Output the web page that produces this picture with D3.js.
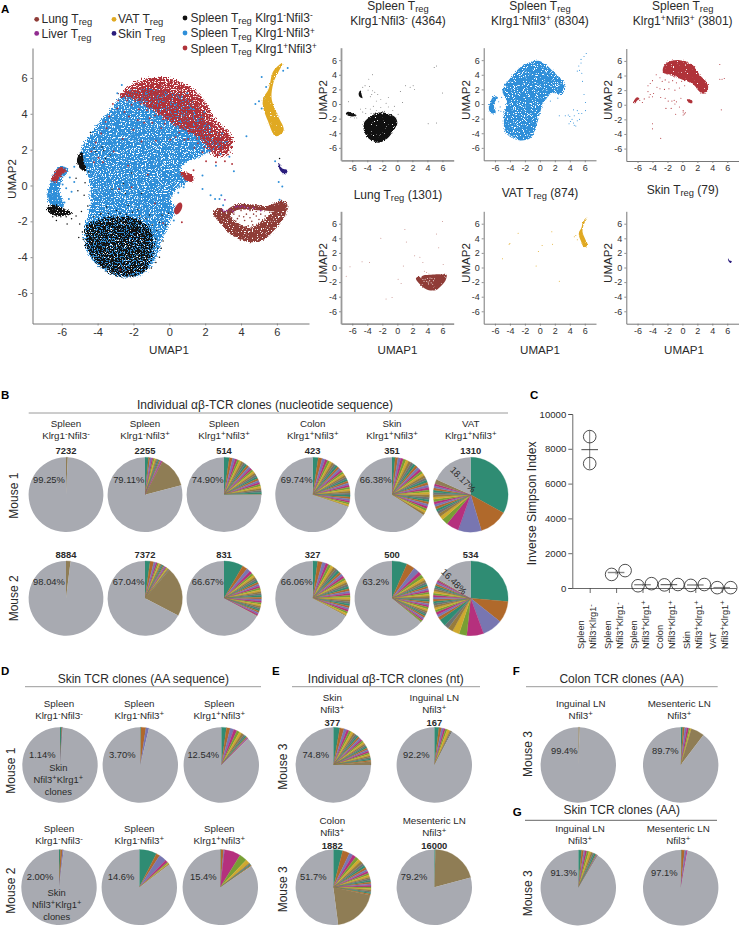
<!DOCTYPE html>
<html><head><meta charset="utf-8">
<style>html,body{margin:0;background:#fff}svg{display:block}text{font-family:"Liberation Sans",Arial,sans-serif;fill:#2a2a2a}</style>
<script src="https://cdn.jsdelivr.net/npm/d3@7"></script></head><body><svg id="c" width="739" height="926"></svg>
<script>
// ---------- UMAP data (UMAP1, UMAP2) ----------
const blueHull=[[-3.1,4.4],[-3.9,3.5],[-4.4,2.85],[-4.85,2.1],[-4.95,1.4],[-4.5,.5],[-4.4,-.6],[-4.5,-1.55],[-4.75,-2.65],[-4.45,-3.95],[-3.5,-4.8],[-2.55,-5.15],[-1.45,-4.9],[-.7,-3.95],[-.35,-2.85],[.1,-1.9],[.4,-1.25],[.05,-.8],[.4,-.25],[.95,.2],[.6,.85],[1.7,1.6],[2.4,1.9],[3.4,2.2],[2.5,3],[1,4.8],[-1,5.4],[-2.6,5.0]];
const blueMiniHull=[[-.2,5.9],[1.8,4.4],[3.3,2.4],[2.9,1.2],[1.8,1.5],[.9,.8],[.5,.2],[0,-1.3],[-.45,-2.9],[-1.3,-4.7],[-3.1,-4.9],[-4.5,-4],[-4.8,-1.7],[-4.5,.5],[-5,1.7],[-3.8,3.7],[-2.2,5.3]];
const redHull=[[-2.75,4.95],[-2.4,5.4],[-1.45,5.88],[-.15,5.98],[.95,5.6],[1.9,4.78],[2.6,3.6],[3.45,2.75],[3.55,2.35],[3.2,1.65],[2.6,1.6],[2.3,1.9],[1.7,2.6],[.8,3.1],[-.2,3.7],[-1.1,4.3],[-2,4.8]];
const redMiniHull=[[-2.6,5],[-2.1,5.7],[-.36,6.1],[1.4,5.4],[2.3,4.1],[3.4,2.7],[3.4,2],[2.8,1.5],[2.1,2],[1.4,2.9],[.1,3.4],[-1.7,4.1],[-2.6,4.5]];
const blackHull=[[-4.6,-2.3],[-3.9,-1.95],[-2.6,-1.75],[-1.5,-2.05],[-.9,-2.9],[-.95,-3.9],[-1.45,-4.85],[-2.55,-5.15],[-3.5,-4.8],[-4.4,-3.95],[-4.7,-2.9]];
const blackWideHull=[[-4.4,-2.5],[-3.6,-1.7],[-2.5,-1.2],[-1,-1.4],[-.2,-1.9],[0,-2.6],[-.5,-3.6],[-1.3,-4.7],[-2.5,-5.3],[-3.6,-4.9],[-4.4,-3.8]];
const blackLeft=[[-6.85,-1.35],[-6.65,-1.1],[-5.9,-1.3],[-5.4,-1.55],[-5.9,-1.7],[-6.65,-1.55]];
const blackMid=[[-5.15,1.45],[-4.9,1.85],[-4.75,1.25],[-4.65,.8],[-4.98,.95]];
const blueLeft=[[-6.55,.4],[-6.7,-1],[-6.4,-1.3],[-5.9,-1.15],[-6.1,-.5],[-6.0,.3],[-5.6,.9],[-6.1,1.05]];
const redLeft=[[-6.55,.25],[-6.4,.7],[-6,1.03],[-5.75,.85],[-6.1,.5],[-6.3,.2]];
const redSmall=[[.6,.72],[1.34,.5],[1.3,.22],[.87,.32]];
const redSlash=[[.3,-1.55],[.66,-.97],[.7,-1.02],[.36,-1.6]];
const lungHull=[[2.5,-1.45],[3.0,-2.3],[3.6,-2.85],[4.4,-3.15],[5.1,-3.1],[5.85,-2.5],[6.5,-1.55],[6.55,-1.0],[6.25,-.85],[5.85,-1.4],[5.3,-1.9],[4.4,-2.35],[3.7,-2.0],[3.2,-1.55],[2.85,-1.25]];
const lungThin=[[3.2,-1.5],[3.8,-1.05],[4.5,-1.05],[5.4,-1.15],[6.1,-1.0],[6.1,-1.35],[5.3,-1.4],[4.4,-1.35],[3.7,-1.4],[3.3,-1.75]];
const vatHull=[[6.3,6.85],[5.85,6.45],[5.5,5.3],[5.25,4.9],[5.5,3.6],[6,2.75],[6.35,3.0],[6.05,3.9],[5.7,4.9],[5.8,5.7]];
const skinHull=[[6.1,1.25],[6.3,.95],[6.6,.85],[6.45,.6],[6.25,.75],[6.1,1.05]];
const liverPts=[[3.2,-1.4],[3.4,-1.35],[3.55,-1.45],[3.7,-1.2],[3.8,-1.15],[3.95,-1.2],[4.05,-1.15],[4.2,-1.2],[4.4,-1.25],[3.05,-1.45],[2.95,-1.35],[4.7,-1.25],[5.1,-1.4],[3.1,-.8]];
const redSpecks=[[-3.35,3.85],[-2.9,4.3],[-2.5,4.1],[-2.1,4.5],[-1.7,4.25],[-1.25,4.2],[-.8,3.9],[-.35,3.7],[.15,3.5],[.6,3.2],[1.1,3.0],[1.55,2.6],[2.0,2.4],[-3.8,2.9],[-4.1,2.4],[-4.35,1.9],[-4.2,1.3],[-3.95,1.55],[-3.7,1.3],[-3.1,1.9],[-2.6,2.6],[-2,3.1],[-1.4,3.5],[-.95,3.5],[-.45,3.2],[.35,2.7],[.85,2.55],[1.4,2.1],[1.85,1.85],[.05,2.55],[-.75,2.5],[-1.55,2.45],[-2.3,1.1],[-1.2,.6],[-2.8,-.2],[-.8,-1.0],[-2.1,-.1],[-3.5,3.2],[-3.55,3.55],[2.05,1.35],[2.6,1.3],[3.1,1.35],[1.35,.85],[3.5,1.2],[.1,3.95],[.6,3.75],[-.65,4.3],[-3.15,4.55],[-2.85,4.75],[-.35,-2.1],[-2.75,-4.7],[.7,-2.05],
[-1.6,4.55],[-1.1,4.35],[-.55,4.0],[-.1,3.8],[.35,3.35],[.85,3.3],[1.3,3.25],[1.7,2.85],[2.2,2.7],[2.35,2.05],[1.95,2.15],[-1.9,4.7],[-2.35,4.75],[-.25,3.45],[.55,2.95],[1.05,2.6],[1.6,2.35],[-1.1,3.75],[-1.75,3.65],[-2.25,3.85]];
const blueSpecks=[[-.6,4.7],[-.2,5.05],[.3,4.5],[.7,4.95],[1.2,4.3],[.8,3.9],[1.6,3.6],[1.95,4.1],[2.25,3.2],[2.7,2.3],[2.95,2.9],[-1.3,5.1],[-2.2,5.3],[-2.65,5.6],[-2.9,5.15],[3.1,2.4],[2.85,1.75],[1.0,5.15],[-1.5,4.85],
[5.15,6.05],[5.85,6.2],[5.4,5.5],[5.0,4.7],[4.8,4.55],[5.15,4.3],[5.3,4.85],[6.35,6.4],[6.6,6.55],[4.3,2.75],[3.35,1.6],[3.6,.8],[5.9,1.35],[6.1,.2],[6.3,-.05],[2.9,-.55],[2.55,-.75],[2.8,-.75],[2.3,-.55],[1.85,-.2],[1.85,.55],[2.6,1.1],[.5,-.4],[.8,-.1],[.25,-1.95],[6.35,-.95],[6.15,-.8],[3.0,-1.1],[-5.55,.45],[-5.3,.2],[-5.45,-.35],[-5.6,-.75],[-5.3,1.05],[-5.75,-.15],[-5.95,.05],[-5.85,-.95]];
const blackSpecks=[[-5.1,-.3],[-4.75,-.55],[-5.2,.4],[-4.55,-1.15],[-4.9,-1.45],[-5.0,-2.15],[-4.85,-2.6],[-5.05,-2.9],[-4.8,-3.0],[-4.5,.75],[-4.1,1.9],[-3.65,1.95],[-3.3,1.7],[-3.55,1.5],[-3.75,2.15],[-3.2,-.2],[-2.45,-.45],[-2.55,.1],[-2.3,-1.1],[-1.75,-1.35],[-1.1,-1.65],[-.55,-2.05],[-.2,-2.2],[-.4,-1.65],[-.05,-1.55],[-2.95,-1.4],[-3.5,-1.2],[-3.8,-1.55],[-5.45,-1.85],[-5.75,-1.75],[-6.3,-1.95],[-6.05,-1.75],[-5.7,-2.15],[-5.2,-1.7],[-6.5,-1.75],[-4.7,.15],[-4.2,2.1],[-.55,-4.0],[-.75,-4.3],[-1.0,-4.6],[-.45,-3.5],[-.35,-3.1],[5.4,4.65],[6.15,1.5],[-4.4,2.95],[-2.1,.7],[-1.55,-.45],
[-4.2,-1.75],[-3.85,-1.6],[-3.4,-1.55],[-3.1,-1.7],[-2.75,-1.55],[-2.4,-1.6],[-2.05,-1.5],[-1.65,-1.7],[-1.3,-1.85],[-.95,-2.2],[-.7,-2.5],[-.75,-3.0],[-.65,-3.5],[-4.35,-2.05],[-3.6,-1.8],[-2.9,-1.85],[-2.2,-1.85],[-1.85,-1.85]];
const miniBlackPts=[[-5,1.6],[-4.6,2.3],[-4.3,2.5],[-3.7,2.4],[-3.9,1.9],[-3.3,1.8],[-3.0,1.6],[-3.4,1.3],[-3.6,1.0],[-3.3,4.0],[-3.8,3.4],[-2.6,1.3],[-2.8,.4],[-2.2,.6],[-1.5,.1],[-1.2,.9],[-.4,-.3],[-.6,-.9],[.1,-1.4],[-4.2,-.6],[-3.6,-.7],[-4.6,-1.1],[-4.9,-.7],[-4.2,-1.3],[-3.2,-.3],[-2.2,-.5],[-1.2,-.4],[.7,.2],[.4,1.7],[1.1,2.5],[1.7,2.3],[2.1,2.5],[2.3,2.0],[4.1,-2.7],[5.2,-2.6],[6,1.5],[4.9,5],[5.2,5.2],[-5.7,-1.9],[-6.2,-1.8],[-5.4,-1.9],[-6.5,.3],[-3.5,-1.3],[-2.8,-.9],[-1.7,-1.0]];
const miniBluePts=[[-5.1,.9],[-5.5,.3],[-5.3,-.4],[-5.5,-.9],[-5.2,-1.0],[5.5,6.1],[5.9,6.5],[6.2,6.9],[5.2,5.2],[5.5,5.6],[5.0,4.5],[5.3,4.6],[5.6,4.2],[5.7,3.1],[5.9,1.3],[6.1,.2],[6.1,-.9],[5.6,-1.3],[5.2,-1.3],[4.6,-1.6],[4.0,-1.7],[3.8,-1.5],[3.4,-1.6],[2.6,-1.6],[4.1,-2.4],[4.5,-2.6],[4.8,-3.0],[5.0,-2.3],[5.3,-2.1],[4.3,-2.1],[4.6,-2.9],[3.9,-2.7],[4.5,-.8],[5,-.9],[2.4,.8],[1.4,.4]];
const miniRedPts=[[-4.6,2.6],[-4.3,2.9],[-4.0,3.3],[-3.5,4.1],[-3.0,3.7],[-2.7,3.2],[-2.3,3.4],[-1.8,3.1],[-1.3,3.3],[-.8,3.0],[-3.4,2.4],[-3.0,2.2],[-2.4,2.1],[-1.8,2.2],[-1,2.0],[-.4,2.3],[.3,2.6],[-4.6,1.8],[-4.3,1.4],[-4.0,1.1],[-4.45,1.05],[-3.85,1.55],[-2.9,1.0],[-2.3,.9],[-1.9,.5],[-1.4,.5],[-1.1,.6],[-.8,.4],[-.2,.9],[-.4,-.3],[-2.2,-.5],[-1.5,-.5],[-1,.1],[.1,-.8],[-.9,-1.3],[.1,-1.4],[.4,-1.1],[.1,-1.0],[.25,-1.25],[-4,-2.6],[-4,-3.3],[-2.9,-4.6],[5,5.5],[5,3.5],[5.3,3.5],[5.6,3.6],[5.2,-.7],[.9,.7],[.7,.6],[1.2,.5],[1.0,.4],[.8,.4],[-5.7,.6],[-5.35,.3],[-5.1,.8],[1.3,3.5],[.4,3.6],[-.5,3.7],[-1.2,3.9],[1.9,3.1],[2.3,2.6],[-.1,3.2],[.8,3.2]];
const miniLungPts=[[6,6.3],[1,5.2],[5.2,4.6],[-2.2,4],[1.2,3.5],[5.5,2.7],[2.3,1.6],[3,1.4],[3.4,.7],[-4.7,.8],[-3.7,.7],[-6.3,.1],[6.1,.4],[.8,.2],[-6.8,-1.2],[.1,-1.6],[.5,-2.2],[-1.5,-4.3],[-.7,-4.1],[3.6,-.5],[3.9,-.7],[4.2,-.9]];
const lungInner=[[3.6,-1.6],[3.9,-1.7],[4.3,-1.6],[4.7,-1.6],[5.1,-1.6],[3.7,-2],[4.2,-1.95],[4.6,-2],[5,-1.9],[4.0,-1.4],[4.5,-1.4],[3.45,-1.85],[4.85,-1.45],[5.35,-1.7],[3.3,-1.6],[4.4,-2.25],[3.95,-2.3],[5.6,-1.5],[3.05,-1.8],[5.0,-2.2],[4.15,-1.75],[4.5,-1.8],[4.85,-1.7],[3.8,-1.85],[4.65,-2.2],[3.6,-2.15],[5.25,-2.05]];
const miniLungWhite=[[3.7,-1.6],[4.0,-1.5],[4.3,-1.8],[4.6,-1.5],[4.1,-2],[4.5,-2.1],[4.8,-1.8],[3.9,-1.9],[4.35,-1.45],[3.55,-1.9],[4.95,-1.55],[4.15,-2.25],[4.7,-2.3],[3.4,-1.65]];
const miniVatPts=[[-5,1.2],[-4.1,3.2],[-4,3.3],[-2.9,4.7],[1.6,4.9],[1.7,3.2],[.3,3],[-.2,2.2],[-.5,.2],[2.6,-1.9],[4.6,4.2],[4.8,4.4],[5,3.8]];

// ---------- Panel A labels ----------
const umapTicks=[-6,-4,-2,0,2,4,6];
const legendLabels=["Lung T_{reg}","Liver T_{reg}","VAT T_{reg}","Skin T_{reg}","Spleen T_{reg} Klrg1^{-}Nfil3^{-}","Spleen T_{reg} Klrg1^{-}Nfil3^{+}","Spleen T_{reg} Klrg1^{+}Nfil3^{+}"];

// ---------- Pie data: clone shares (%), pooled thin clones (%), remainder (%) ----------
const m1a={clones:[],blend:.75,rest:99.25};
const m1b={clones:[1.5,.7,.7,.6,.6,.6,.5,.5,.5,.5,.5,.5],blend:13.19,rest:79.11};
const m1c={clones:[2.3,1.4,1.1,1,.95,.95,.95,.95,.95,.95,.95,.9,.9,.9,.9,.9,.9,.9,.9,.85,.85,.85,.85,.85,.85],blend:.2,rest:74.9};
const m1d={clones:[2.4,1.7,1.3,1.1,1.1,1,1,1,1,.95,.95,.95,.95,.9,.9,.9,.9,.9,.9,.9,.9,.85,.85,.85,.85,.85,.8,.8,.8,.75],blend:.2,rest:69.74};
const m1e={clones:[1.4,1.2,1.2,1.2,1.2,1.2,1.2,1.15,1.15,1.15,1.15,1.15,1.1,1.1,1.1,1.1,1.1,1.1,1.1,1.1,1.05,1.05,1.05,1.05,1.05,1,1,1,1,1,.95],blend:.1,rest:66.38};
const m1f={clones:[32.8,12.2,10,5.4,2.6,1.6,1.3,1.2,1.1,1.1,1.05,1.05,1,1,1,1,.95,.95,.9,.9],blend:1.9,rest:18.17};
const m2a={clones:[],blend:1.96,rest:98.04};
const m2b={clones:[2.2,1.6,.9,.7,.6,.6,.5,.5,.5,.5,.5,.5,.4,.4,.4,.4],blend:21.26,rest:67.04};
const m2c={clones:[8.3,2.2,1.6,1.2,1,.9,.9,.85,.85,.85,.85,.85,.8,.8,.8,.8,.8,.8,.8,.75,.75,.75,.75,.7,.7,.7,.7,.65],blend:.2,rest:66.67};
const m2d={clones:[2.1,2,1.5,1.2,1.2,1.2,1.1,1.1,1.1,1.05,1.05,1,1,1,1,1,.95,.95,.95,.9,.9,.9,.9,.9,.85,.85,.85,.85,.8,.8],blend:.3,rest:66.06};
const m2e={clones:[6.5,3.5,2.5,1.5,1.5,1.2,1,1,.85,.85,.85,.85,.85,.8,.8,.8,.8,.8,.8,.8,.8,.8,.8,.8,.75,.75,.75,.7,.7],blend:.2,rest:63.2};
const m2f={clones:[26.1,9.2,8.6,7.2,3.3,3,2.2,1.9,3,1.4,1.1,1.1,1,1,.95,.95,.9,.9,.9,.85,.85,.85,.8,.8,.8,.8,.75,.75],blend:.4,rest:16.48};
const d1a={clones:[.7,.25,.19],blend:0,rest:98.86};
const d1b={clones:[.3,2.1,1.3],blend:0,rest:96.3};
const d1c={clones:[2.2,1.6,1.6,1.4,1.2,1.1,1,.8,.6,.5,.3,.24],blend:0,rest:87.46};
const d2a={clones:[.6,.9,.5],blend:0,rest:98};
const d2b={clones:[7.5,1.6,3.2,1.1,.5,.4,.3],blend:0,rest:85.4};
const d2c={clones:[.3,1.1,.4,7,3.3,1.8,.4,.4,.4,.3],blend:0,rest:84.6};
const e1a={clones:[2.8,1.8,1.2,1.1,1,1,.9,.9,.8,.8,.8,.8,.75,.75,.75,.7,.7,.7,.7,.7,.7,.65,.65,.65,.6,.6],blend:1.5,rest:74.8};
const e1b={clones:[2,1.1,.9,.8,.8,1.2,.5,.5],blend:0,rest:92.2};
const e2a={clones:[4,3,1.6,1.5,1.4,1.3,1.2,1.1,1,.9,.9,.9,.8,.8,.75,.75,.7,.7,.7,.65,.65,.6,.6,.6,.55,.55],blend:19.4,rest:51.7};
const e2b={clones:[.5],blend:20.3,rest:79.2};
const f1a={clones:[],blend:.6,rest:99.4};
const f1b={clones:[.9,.8,.9,.9,.6,.5],blend:5.7,rest:89.7};
const g1a={clones:[1.4,.9,.6,.8,.9,.9,.8,.7,.7,.4,.4],blend:.1,rest:91.3};
const g1b={clones:[.4,1.3,.8,.4],blend:0,rest:97.1};
const sliceColors=["#2f8c73","#b0692b","#7876b1","#b5307d","#789f34","#cfa92e","#977b3d","#6f7271"];
const blendColor="#8f7d55",restColor="#a8aab1";

// ---------- Panel C data ----------
const cGroups=["Spleen|Nfil3^{-}Klrg1^{-}","Spleen|Nfil3^{+}Klrg1^{-}","Spleen|Nfil3^{+}Klrg1^{+}","Colon|Nfil3^{+}Klrg1^{+}","Skin|Nfil3^{+}Klrg1^{+}","VAT|Nfil3^{+}Klrg1^{+}"];
const cMouse1=[8700,780,130,180,150,20];
const cMouse2=[7150,1000,250,200,200,20];
const cMean=[7950,890,190,190,175,20];
const cErr=[1100,110,60,10,25,5];
const cTicks=[0,2000,4000,6000,8000,10000];

// ---------- helpers ----------
const svg=d3.select("#c");
const defs=svg.append("defs");
function grain(id,freq,scale,slope,cut,seed){
  const f=defs.append("filter").attr("id",id).attr("x","-15%").attr("y","-15%").attr("width","130%").attr("height","130%").attr("color-interpolation-filters","sRGB");
  f.append("feTurbulence").attr("type","fractalNoise").attr("baseFrequency",freq).attr("numOctaves",2).attr("seed",seed).attr("result","n");
  f.append("feDisplacementMap").attr("in","SourceGraphic").attr("in2","n").attr("scale",scale).attr("xChannelSelector","R").attr("yChannelSelector","G").attr("result","d");
  f.append("feColorMatrix").attr("in","n").attr("type","matrix").attr("values",`0 0 0 0 0 0 0 0 0 0 0 0 0 0 0 0 ${slope} 0 0 ${cut}`).attr("result","m");
  f.append("feComposite").attr("in","d").attr("in2","m").attr("operator","in");
}
grain("gB",.75,9,14,-4.9,4);
grain("gR",.75,11,14,-5.0,11);
grain("gK",.75,10,14,-5.7,23);
grain("gE",.8,5,14,-4.2,7);
grain("gS",.9,3.5,14,-3.2,9);
grain("gV",.9,2.5,14,-3,13);
grain("gSB",.9,4,14,-4.6,17);
function rich(x,y,str,o={}){
  const fs=o.size||9.5;
  const t=svg.append("text").attr("font-size",fs).attr("text-anchor",o.anchor||"middle");
  if(o.rotate!=null) t.attr("transform",`translate(${x},${y}) rotate(${o.rotate})`);
  else t.attr("x",x).attr("y",y);
  if(o.weight) t.attr("font-weight",o.weight);
  const re=/([_^])\{([^}]*)\}/g;let m,i=0,pend=0;
  const add=(s,size,dy)=>{const ts=t.append("tspan").text(s).attr("font-size",size);const d=dy+pend;if(d)ts.attr("dy",d);pend=-dy;};
  while((m=re.exec(str))){
    if(m.index>i)add(str.slice(i,m.index),fs,0);
    if(m[1]=="_")add(m[2],fs*.78,fs*.2);
    else add(m[2],fs*(o.sup||.8),-fs*.3);
    i=m.index+m[0].length;
  }
  if(i<str.length)add(str.slice(i),fs,0);
  return t;
}
function axesUmap(box,o){
  const x=d3.scaleLinear(o.xd,[box.l,box.r]),y=d3.scaleLinear(o.yd,[box.b,box.t]);
  const ax=svg.append("g").attr("transform",`translate(0,${box.b})`).call(d3.axisBottom(x).tickValues(umapTicks).tickSize(o.tick).tickSizeOuter(0).tickPadding(o.pad).tickFormat(d3.format("d")));
  const ay=svg.append("g").attr("transform",`translate(${box.l},0)`).call(d3.axisLeft(y).tickValues(umapTicks).tickSize(o.tick).tickSizeOuter(0).tickPadding(o.pad).tickFormat(d3.format("d")));
  [ax,ay].forEach(a=>{a.selectAll("text").attr("font-size",o.fs).style("font-family",'"Liberation Sans"').style("fill","#333").text(function(){return this.textContent.replace("−","-");});
    a.selectAll("path").attr("stroke",o.axc||"#777").attr("stroke-width",o.axw||1);a.selectAll("line").attr("stroke","#777").attr("stroke-width",.8);});
  return {x,y};
}
function hull(s,pts,c,filter){const p=svg.append("path").attr("d",d3.line().x(d=>s.x(d[0])).y(d=>s.y(d[1])).curve(d3.curveCatmullRomClosed.alpha(1))(pts)).attr("fill",c);if(filter)p.attr("filter",`url(#${filter})`);}
function dots(s,pts,c,r){svg.append("g").selectAll("circle").data(pts).join("circle").attr("cx",d=>s.x(d[0])).attr("cy",d=>s.y(d[1])).attr("r",r).attr("fill",c);}
const BL="#2f8fd9",RE="#b0333a",BK="#111",YE="#e0a922",BR="#8f3c37",NV="#2a1c7c",PU="#912c90";

// ---------- Panel A main ----------
const xdM=[-7.63,7.79],ydM=[-7.7,7.67];
const M=axesUmap({l:32.5,r:309,t:48,b:323.5},{xd:xdM,yd:ydM,tick:2,pad:3,fs:11});
hull(M,blueHull,BL,"gB");hull(M,blueLeft,BL,"gE");
hull(M,redHull,RE,"gR");hull(M,redLeft,RE,"gS");hull(M,redSmall,RE,"gS");hull(M,redSlash,RE);
hull(M,blackHull,BK,"gK");hull(M,blackLeft,BK,"gE");hull(M,blackMid,BK,"gS");
dots(M,blueSpecks,BL,1);
dots(M,redSpecks,RE,.95);dots(M,blackSpecks,BK,.75);
hull(M,lungHull,BR,"gE");hull(M,lungThin,BR,"gS");dots(M,lungInner,BR,.8);
dots(M,liverPts,PU,.9);
hull(M,vatHull,YE,"gV");hull(M,skinHull,NV,"gV");
[[36.7,19.3,BR,41.5,23],[36.7,33.4,PU,41.5,38.3],[114,19.3,YE,118,23],[114,33.4,NV,118,38.3],[185,18,BK,190.5,22],[185,33,BL,190.5,37.3],[185,48,RE,190.5,52.6]].forEach((p,i)=>{
  svg.append("circle").attr("cx",p[0]).attr("cy",p[1]).attr("r",2.4).attr("fill",p[2]);
  rich(p[3],p[4],legendLabels[i],{anchor:"start",size:12,sup:.68});
});
rich(169,353.5,"UMAP1",{size:11.6});
rich(16,179,"UMAP2",{size:11.6,rotate:-90});

// ---------- Panel A small multiples ----------
const xdS=[-7.5,7.5],ydS=[-7.7,7.7];
const opt=(w,c)=>({xd:xdS,yd:ydS,tick:2,pad:2,fs:9,axw:w,axc:c});
const P=[];
const boxes=[[341,453.7,47.7,160.3,1.8,"#999"],[483.7,596,47.7,160.3,1,"#777"],[626.3,738.5,48.5,161,1,"#777"],[341,453.7,211.3,323.7,1.8,"#999"],[483.7,596,211.3,323.7,1,"#777"],[626.3,738.5,211.3,323.7,1,"#777"]];
boxes.forEach(b=>P.push(axesUmap({l:b[0],r:b[1],t:b[2],b:b[3]},opt(b[4],b[5]))));
hull(P[0],blackWideHull,BK,"gS");hull(P[0],blackLeft,BK,"gV");hull(P[0],blackMid,BK,"gV");dots(P[0],miniBlackPts,"#333",.45);
hull(P[1],blueMiniHull,BL,"gSB");hull(P[1],blueLeft,BL,"gS");dots(P[1],miniBluePts,BL,.55);
hull(P[2],redMiniHull,RE,"gS");hull(P[2],redLeft,RE,"gV");hull(P[2],redSmall,RE,"gV");dots(P[2],miniRedPts,RE,.55);
hull(P[3],lungHull,BR,"gV");hull(P[3],lungThin,BR,"gV");hull(P[3],[[3.2,-1.3],[4.5,-1],[6,-1.1],[5.5,-2.2],[4.5,-2.7],[3.4,-2.1]],BR);dots(P[3],miniLungWhite,"#f3e3e1",.55);dots(P[3],miniLungPts,"#c58a86",.5);
hull(P[4],vatHull,YE,"gV");dots(P[4],miniVatPts,YE,.5);
hull(P[5],skinHull,NV);
[["Spleen T_{reg}","Klrg1^{-}Nfil3^{-} (4364)",398],["Spleen T_{reg}","Klrg1^{-}Nfil3^{+} (8304)",540],["Spleen T_{reg}","Klrg1^{+}Nfil3^{+} (3801)",682.7]].forEach(t=>{
  rich(t[2],9.6,t[0],{size:12});rich(t[2],25,t[1],{size:12,sup:.7});
});
rich(398,199,"Lung T_{reg} (1301)",{size:12});rich(540,197,"VAT T_{reg} (874)",{size:12});rich(682.7,194,"Skin T_{reg} (79)",{size:12});
[[397.5,327],[540,469.5],[684,612]].forEach(c=>{
  rich(c[0],354,"UMAP1",{size:11.6});
  rich(c[1],100,"UMAP2",{size:11.6,rotate:-90});
  rich(c[1],263,"UMAP2",{size:11.6,rotate:-90});
});

// ---------- Pies ----------
const pieGen=d3.pie().value(d=>d.v).sort(null).startAngle(0).endAngle(2*Math.PI);
function drawPie(cx,cy,r,d){
  const rows=[...d.clones.map((v,i)=>({v,c:sliceColors[i%sliceColors.length]})),{v:d.blend,c:blendColor},{v:d.rest,c:restColor}];
  const arc=d3.arc().innerRadius(0).outerRadius(r);
  svg.append("g").attr("transform",`translate(${cx},${cy})`).selectAll("path").data(pieGen(rows).filter(a=>a.data.v>0)).join("path").attr("d",arc).attr("fill",a=>a.data.c).attr("stroke",a=>a.data.c).attr("stroke-width",a=>a.data.c==restColor?0:.3);
}
function rule(x1,x2,y,c){svg.append("line").attr("x1",x1).attr("x2",x2).attr("y1",y).attr("y2",y).attr("stroke",c||"#9a9a9a").attr("stroke-width",1);}

// B
const bx=[66,145,224,312.7,392,470.7];
const bHead=[["Spleen","Klrg1^{-}Nfil3^{-}"],["Spleen","Klrg1^{-}Nfil3^{+}"],["Spleen","Klrg1^{+}Nfil3^{+}"],["Colon","Klrg1^{+}Nfil3^{+}"],["Skin","Klrg1^{+}Nfil3^{+}"],["VAT","Klrg1^{+}Nfil3^{+}"]];
const bCount1=["7232","2255","514","423","351","1310"],bCount2=["8884","7372","831","327","500","534"];
const bPct1=["99.25%","79.11%","74.90%","69.74%","66.38%"],bPct2=["98.04%","67.04%","66.67%","66.06%","63.2%"];
const bPctX=[49,128.7,207.7,296.7,375.7];
[m1a,m1b,m1c,m1d,m1e,m1f].forEach((d,i)=>drawPie(bx[i],494.7,37.4,d));
[m2a,m2b,m2c,m2d,m2e,m2f].forEach((d,i)=>drawPie(bx[i],598.3,37.4,d));
rich(265,409,"Individual αβ-TCR clones (nucleotide sequence)",{size:12});
rule(28.7,508,413);
bx.forEach((x,i)=>{
  rich(x,426.5,bHead[i][0],{size:9.8});rich(x,438.5,bHead[i][1],{size:9.8});
  rich(x,454,bCount1[i],{size:9.4,weight:"bold"});rich(x,558,bCount2[i],{size:9.4,weight:"bold"});
  if(i<5){rich(bPctX[i],482.5,bPct1[i],{size:9.4});rich(bPctX[i],585,bPct2[i],{size:9.4});}
});
rich(463.5,479,"18.17%",{size:9.4,rotate:45}).attr("dominant-baseline","central");
rich(454.5,581,"16.48%",{size:9.4,rotate:45}).attr("dominant-baseline","central");
rich(18,495.7,"Mouse 1",{size:12,rotate:-90});rich(18,598.3,"Mouse 2",{size:12,rotate:-90});

// C
const cy=d3.scaleLinear([0,10000],[588,414]);
const cx=d3.scalePoint(cGroups,[589.7,721.7]);
const dodge=d3.scaleLinear([-1,0,1],[-4.5,0,9]);
svg.append("g").attr("transform","translate(572.3,0)").call(d3.axisLeft(cy).tickValues(cTicks).tickSize(4).tickPadding(2).tickFormat(d3.format("d")))
 .call(a=>{a.selectAll("text").attr("font-size",9.6).style("font-family",'"Liberation Sans"').style("fill","#2a2a2a");a.selectAll("path,line").attr("stroke","#444").attr("stroke-width",.8);});
svg.append("g").attr("transform","translate(0,588)").call(d3.axisBottom(d3.scaleLinear([572.3,736],[572.3,736])).tickValues(cGroups.map(g=>cx(g))).tickSize(5).tickSizeOuter(0).tickFormat(""))
 .call(a=>a.selectAll("path,line").attr("stroke","#444").attr("stroke-width",.8));
cGroups.forEach((g,i)=>{
  const X=cx(g),k=g.split("|");
  svg.append("line").attr("x1",X).attr("x2",X).attr("y1",cy(cMean[i]-cErr[i])).attr("y2",cy(cMean[i]+cErr[i])).attr("stroke","#555").attr("stroke-width",.8);
  svg.append("line").attr("x1",X-8.3).attr("x2",X+8.3).attr("y1",cy(cMean[i])).attr("y2",cy(cMean[i])).attr("stroke",i==0||i==3?"#333":"#888").attr("stroke-width",i==0||i==3?.9:1.4);
  const off=i==0?0:1;
  svg.append("circle").attr("cx",X+dodge(-off)).attr("cy",cy(cMouse1[i])).attr("r",6.3).attr("fill","none").attr("stroke","#222").attr("stroke-width",.8);
  svg.append("circle").attr("cx",X+dodge(off)).attr("cy",cy(cMouse2[i])).attr("r",6.3).attr("fill","none").attr("stroke","#222").attr("stroke-width",.8);
  rich(X-5.5,649,k[0],{size:9.2,rotate:-90,anchor:"start"});
  rich(X+6.5,649,k[1],{size:9.2,rotate:-90,anchor:"start"});
});
rich(536,503.3,"Inverse Simpson Index",{size:12.2,rotate:-90});

// D
const dHead=[["Spleen","Klrg1^{-}Nfil3^{-}"],["Spleen","Klrg1^{-}Nfil3^{+}"],["Spleen","Klrg1^{+}Nfil3^{+}"]];
const dPct1=["1.14%","3.70%","12.54%"],dPct2=["2.00%","14.6%","15.4%"];
[d1a,d1b,d1c].forEach((d,i)=>drawPie([60,140.3,221.3][i],765,37.7,d));
[d2a,d2b,d2c].forEach((d,i)=>drawPie([59,139.3,220.3][i],887.3,37.7,d));
rich(143.3,682.5,"Skin TCR clones (AA sequence)",{size:12});rule(25,261,686.7);
dHead.forEach((h,i)=>{
  const a=[59,139.3,219.3][i],b=[59,139.3,219.3][i];
  rich(a,706.5,h[0],{size:9.8});rich(a,718.5,h[1],{size:9.8});
  rich(b,831.5,h[0],{size:9.8});rich(b,843.5,h[1],{size:9.8});
  rich([42.3,122.3,203.3][i],757.5,dPct1[i],{size:9.4});
  rich([40,121,203.3][i],880,dPct2[i],{size:9.4});
});
[[58.3,770.5,782.5,794.5],[56.7,895.5,907.5,919.5]].forEach(r=>{
  rich(r[0],r[1],"Skin",{size:9.4});rich(r[0],r[2],"Nfil3^{+}Klrg1^{+}",{size:9.4});rich(r[0],r[3],"clones",{size:9.4});
});
rich(14.5,770.7,"Mouse 1",{size:12,rotate:-90});rich(14.5,890.7,"Mouse 2",{size:12,rotate:-90});

// E
[[e1a,333.3,765],[e1b,434.3,765],[e2a,333.3,887.3],[e2b,434.3,887.3]].forEach(p=>drawPie(p[1],p[2],37.7,p[0]));
rich(385.8,682.5,"Individual αβ-TCR clones (nt)",{size:12});rule(292,480,686.7);
[[332.3,"Skin","377","74.8%",315.7,700.7,713,726,757.5],[434.3,"Inguinal LN","167","92.2%",416.3,700.7,713,726,757.5],[332.3,"Colon","1882","51.7%",313.3,824,836.3,849,880],[434.3,"Mesenteric LN","16000","79.2%",414,824,836.3,849,880]].forEach(t=>{
  rich(t[0],t[5],t[1],{size:9.8});rich(t[0],t[6],"Nfil3^{+}",{size:9.8});rich(t[0],t[7],t[2],{size:9.4,weight:"bold"});rich(t[4],t[8],t[3],{size:9.4});
});
rich(287,766.7,"Mouse 3",{size:12,rotate:-90});rich(287,889.3,"Mouse 3",{size:12,rotate:-90});

// F, G
[[f1a,578.3,765],[f1b,680.7,765],[g1a,578.3,887.7],[g1b,680.7,887.7]].forEach(p=>drawPie(p[1],p[2],37.7,p[0]));
rich(621.7,682.5,"Colon TCR clones (AA)",{size:12});rule(526,717.7,686.7);
rich(621.7,814,"Skin TCR clones (AA)",{size:12});rule(525,717,820.3,"#666");
[[580.7,"Inguinal LN",706.7,718.8],[679.3,"Mesenteric LN",706.7,718.8],[580,"Inguinal LN",831.5,843.6],[678.3,"Mesenteric LN",831.5,843.6]].forEach(t=>{
  rich(t[0],t[2],t[1],{size:9.8});rich(t[0],t[3],"Nfil3^{+}",{size:9.8});
});
[["99.4%",564.3,753.7],["89.7%",665.3,753.7],["91.3%",563.7,876],["97.1%",664.3,876]].forEach(t=>rich(t[1],t[2],t[0],{size:9.4}));
rich(532,754,"Mouse 3",{size:12,rotate:-90});rich(532,893.3,"Mouse 3",{size:12,rotate:-90});

// panel letters
[["A",1,13],["B",1,399],["C",530,399],["D",1,675],["E",272,675],["F",512.7,675],["G",512.7,816]].forEach(l=>{
  svg.append("text").attr("x",l[1]).attr("y",l[2]).attr("font-size",11.5).attr("font-weight","bold").style("fill","#000").text(l[0]);
});
</script></body></html>
